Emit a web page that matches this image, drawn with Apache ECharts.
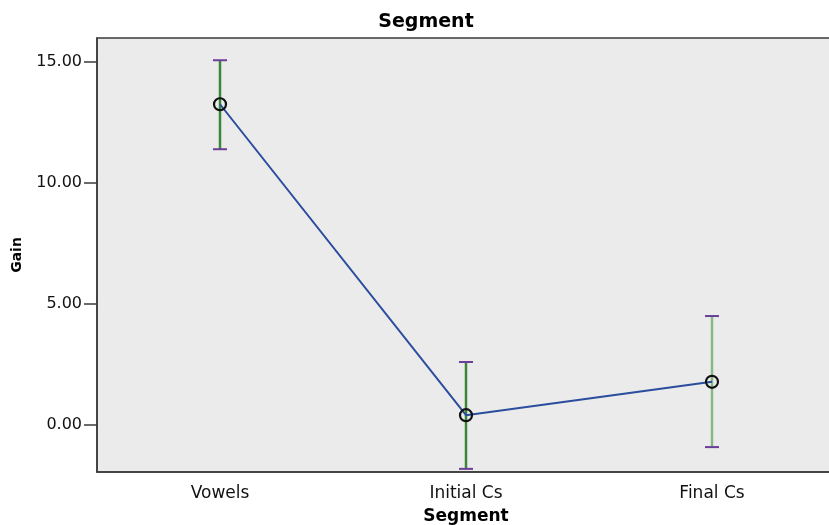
<!DOCTYPE html>
<html>
<head>
<meta charset="utf-8">
<script src="https://cdn.jsdelivr.net/npm/echarts@6/dist/echarts.min.js"></script>
<style>html,body{margin:0;padding:0;background:#fff;}#c{width:829px;height:525px;}</style>
</head>
<body>
<div id="c"></div>
<script>
var categories = ['Vowels', 'Initial Cs', 'Final Cs'];
var means = [13.26, 0.40, 1.78];
var upper = [15.08, 2.60, 4.50];
var lower = [11.40, -1.82, -0.92];
var barColors = ['#3a873a', '#3a873a', '#86b986'];
var yTicks = [0, 5, 10, 15];

var chart = echarts.init(document.getElementById('c'));
var errData = categories.map(function (c, i) { return [i, lower[i], upper[i]]; });
var font = 'DejaVu Sans';
chart.setOption({
  backgroundColor: '#fff',
  animation: false,
  title: {
    text: 'Segment', left: 421, top: 8, textAlign: 'center',
    textStyle: { fontFamily: font, fontWeight: 'bold', fontSize: 19, color: '#000' }
  },
  grid: {
    left: 97, top: 38, width: 738, height: 434, show: true,
    outerBoundsMode: 'none', containLabel: false,
    backgroundColor: '#ebebeb', borderColor: '#3a3a3a', borderWidth: 1.5
  },
  xAxis: {
    type: 'category', data: categories, boundaryGap: true,
    name: 'Segment', nameLocation: 'middle', nameGap: 36,
    nameTextStyle: { fontFamily: font, fontWeight: 'bold', fontSize: 17, color: '#000' },
    axisLine: { onZero: false, lineStyle: { color: '#3a3a3a', width: 1.5 } },
    axisTick: { alignWithLabel: true, length: 10, lineStyle: { color: '#3a3a3a', width: 1.5 } },
    axisLabel: { fontFamily: font, fontSize: 17, color: '#111', margin: 13 },
    splitLine: { show: false }
  },
  yAxis: {
    type: 'value', min: -1.95, max: 16,
    name: 'Gain', nameLocation: 'middle', nameGap: 73, nameRotate: 90,
    nameTextStyle: { fontFamily: font, fontWeight: 'bold', fontSize: 14, color: '#000' },
    axisLine: { show: true, onZero: false, lineStyle: { color: '#3a3a3a', width: 1.5 } },
    axisTick: { show: true, inside: false, length: 13, customValues: yTicks, lineStyle: { color: '#3a3a3a', width: 1.5 } },
    axisLabel: { fontFamily: font, fontSize: 16, color: '#111', margin: 15, customValues: yTicks,
      formatter: function (v) { return v.toFixed(2); } },
    splitLine: { show: false }
  },
  series: [
    {
      type: 'custom', z: 1,
      data: errData,
      renderItem: function (params, api) {
        var i = api.value(0);
        var lo = api.coord([i, api.value(1)]);
        var hi = api.coord([i, api.value(2)]);
        var hw = 7;
        return {
          type: 'group',
          children: [
            { type: 'line', shape: { x1: hi[0], y1: hi[1], x2: lo[0], y2: lo[1] },
              style: { stroke: barColors[i], lineWidth: 2.5 } },
            { type: 'line', shape: { x1: hi[0] - hw, y1: hi[1], x2: hi[0] + hw, y2: hi[1] },
              style: { stroke: '#6b3f99', lineWidth: 2 } },
            { type: 'line', shape: { x1: lo[0] - hw, y1: lo[1], x2: lo[0] + hw, y2: lo[1] },
              style: { stroke: '#6b3f99', lineWidth: 2 } }
          ]
        };
      }
    },
    {
      type: 'line', z: 3, data: means,
      symbol: 'circle', symbolSize: 12,
      lineStyle: { color: '#2b4d9e', width: 2 },
      itemStyle: { color: 'rgba(0,0,0,0)', borderColor: '#111', borderWidth: 2.2 }
    }
  ]
});
</script>
</body>
</html>
